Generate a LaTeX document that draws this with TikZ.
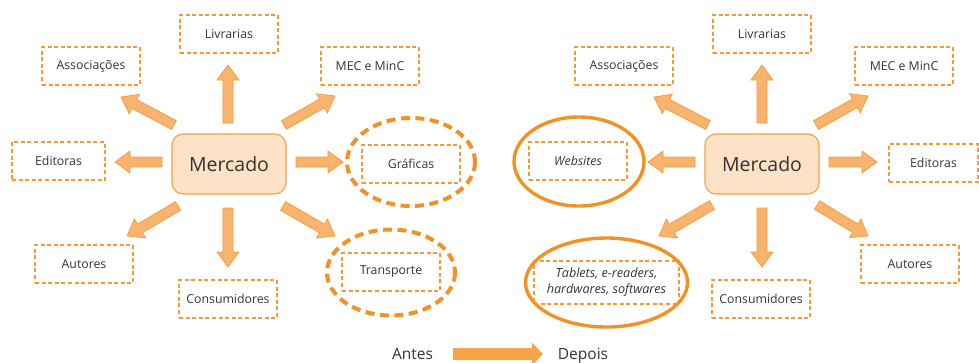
\documentclass[tikz,border=0pt]{standalone}
\usepackage{fontspec}
\setmainfont{Open Sans}
\usetikzlibrary{calc}

\definecolor{dashor}{HTML}{F49B36}
\definecolor{ringor}{HTML}{F39224}
\definecolor{arrowfill}{HTML}{F8B46E}
\definecolor{arrowline}{HTML}{F39C3A}
\definecolor{hubfill}{HTML}{FDE2C6}
\definecolor{hubline}{HTML}{F5A04A}
\definecolor{bigarrow}{HTML}{F7A54A}
\definecolor{ink}{HTML}{333333}

% Block arrow from #1 to #2: half shaft width #3, half head width #4, head length #5, style #6
\newcommand\blkarrow[6]{%
  \coordinate (#2-base) at ($(#2)!#5!(#1)$);
  \draw[#6] ($(#1)!#3!90:(#2)$) -- ($(#2-base)!#3!90:(#2)$) -- ($(#2-base)!#4!90:(#2)$)
    -- (#2) -- ($(#2-base)!#4!-90:(#2)$) -- ($(#2-base)!#3!-90:(#2)$)
    -- ($(#1)!#3!-90:(#2)$) -- cycle;}

\tikzset{
  lbl/.style={draw=dashor, line width=1.6pt, dash pattern=on 4pt off 2.6pt,
    minimum width=98pt, minimum height=38pt, inner sep=0pt, text=ink,
    font=\fontsize{12.3}{15}\selectfont},
  hub/.style={draw=hubline, fill=hubfill, line width=1.1pt, rounded corners=11pt,
    minimum width=114pt, minimum height=60pt, text=ink,
    font=\fontsize{19.5}{23}\selectfont},
  ringdash/.style={draw=ringor, line width=4pt, dash pattern=on 9pt off 5.5pt},
  ringsolid/.style={draw=ringor, line width=3.4pt},
  smallarrow/.style={fill=arrowfill, draw=arrowline, line width=0.7pt, line join=miter},
  legendarrow/.style={fill=bigarrow, draw=none},
  legend/.style={text=ink, font=\fontsize{15.5}{18}\selectfont, inner sep=0pt},
}

\begin{document}
\begin{tikzpicture}[x=1pt, y=-1pt]
\useasboundingbox (0,0) rectangle (979,362);

% ---------- Antes ----------
\node[hub] (mercL) at (229,164) {Mercado};
\node[lbl] (livL) at (229,34) {Livrarias};
\node[lbl] (assL) at (91,66) {Associações};
\node[lbl] (mecL) at (370,66) {MEC e MinC};
\node[lbl, minimum width=93pt] (ediL) at (58.5,161) {Editoras};
\node[lbl] (graL) at (411,164) {Gráficas};
\node[lbl] (autL) at (84,264) {Autores};
\node[lbl] (conL) at (228,299) {Consumidores};
\node[lbl] (traL) at (391,272) {Transporte};
\draw[ringdash] (graL) ++(0,-2) ellipse [x radius=64, y radius=44];
\draw[ringdash] (traL) ++(0,0.5) ellipse [x radius=64, y radius=43];

\coordinate (aLu0) at (228,123);  \coordinate (aLu1) at (228,65);
\coordinate (aLul0) at (174,125); \coordinate (aLul1) at (121,97);
\coordinate (aLur0) at (284,125); \coordinate (aLur1) at (335,96);
\coordinate (aLl0) at (162,162);  \coordinate (aLl1) at (115,162);
\coordinate (aLr0) at (296,162);  \coordinate (aLr1) at (343,162);
\coordinate (aLdl0) at (178,206); \coordinate (aLdl1) at (127,236);
\coordinate (aLd0) at (228,208);  \coordinate (aLd1) at (228,267);
\coordinate (aLdr0) at (283,206); \coordinate (aLdr1) at (335,236);
\foreach \a in {u,ul,ur,l,r,dl,d,dr}{
  \blkarrow{aL\a0}{aL\a1}{5pt}{11pt}{15pt}{smallarrow}
}

% ---------- Depois ----------
\node[hub] (mercR) at (762,164) {Mercado};
\node[lbl] (livR) at (762,34) {Livrarias};
\node[lbl] (assR) at (624,66) {Associações};
\node[lbl] (mecR) at (904,66) {MEC e MinC};
\node[lbl, font=\fontsize{12.3}{15}\selectfont\itshape] (webR) at (578,161) {Websites};
\node[lbl, minimum width=89pt] (ediR) at (933.5,163) {Editoras};
\node[lbl, minimum width=145pt, minimum height=43pt, align=center,
  font=\fontsize{12.6}{16}\selectfont\itshape] (tabR) at (606.5,282.5)
  {Tablets, e-readers,\\hardwares, softwares};
\node[lbl] (conR) at (761,299) {Consumidores};
\node[lbl] (autR) at (910,264) {Autores};
\draw[ringsolid] (webR) ++(1,0.5) ellipse [x radius=65, y radius=44.5];
\draw[ringsolid] (tabR) ellipse [x radius=81, y radius=44.5];

\coordinate (aRu0) at (762,123);  \coordinate (aRu1) at (762,65);
\coordinate (aRul0) at (708,125); \coordinate (aRul1) at (654,97);
\coordinate (aRur0) at (816,125); \coordinate (aRur1) at (868,96);
\coordinate (aRl0) at (695,162);  \coordinate (aRl1) at (648,162);
\coordinate (aRr0) at (829,162);  \coordinate (aRr1) at (877,162);
\coordinate (aRdl0) at (712,205); \coordinate (aRdl1) at (659,236);
\coordinate (aRd0) at (762,208);  \coordinate (aRd1) at (762,267);
\coordinate (aRdr0) at (817,205); \coordinate (aRdr1) at (868,236);
\foreach \a in {u,ul,ur,l,r,dl,d,dr}{
  \blkarrow{aR\a0}{aR\a1}{5pt}{11pt}{15pt}{smallarrow}
}

% ---------- Legend ----------
\node[legend, anchor=base] (antes) at (412.5,359) {Antes};
\node[legend, anchor=base] (depois) at (583,359) {Depois};
\coordinate (lg0) at (453,354);
\coordinate (lg1) at (543,354);
\blkarrow{lg0}{lg1}{6pt}{11.5pt}{11pt}{legendarrow}
\end{tikzpicture}
\end{document}
